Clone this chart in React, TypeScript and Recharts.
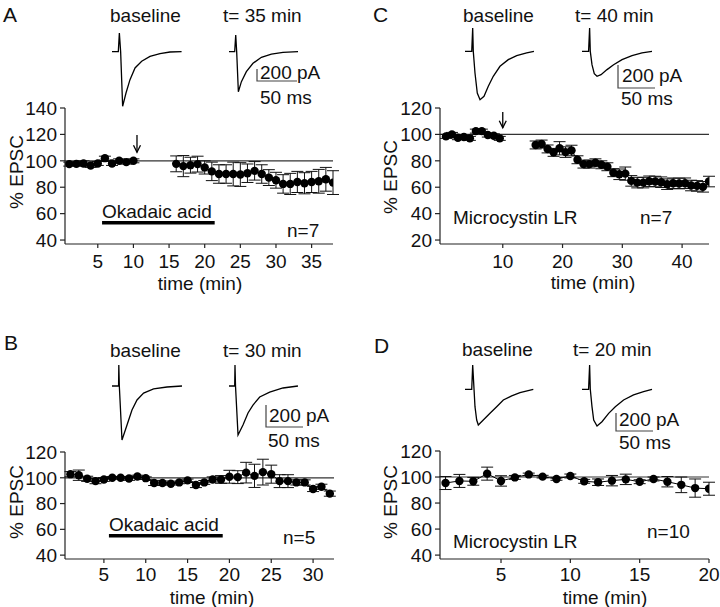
import React from 'react';
import { LineChart, Line, XAxis, YAxis, ErrorBar, ReferenceLine } from 'recharts';

const FONT = '"Liberation Sans", Arial, Helvetica, sans-serif';

// ---------- Panel A (Okadaic acid, n=7) ----------
const A_PRE_T = [1, 2, 3, 4, 5, 6, 7, 8, 9, 10];
const A_PRE_V = [97.5, 97.7, 98, 96.5, 98, 102, 98, 100, 99, 100];
const A_PRE_E = [1.5, 1.5, 2, 1.5, 1.5, 1.5, 1.5, 1.5, 1.5, 1.5];
const A_POST_T = [16, 17, 18, 19, 20, 21, 22, 23, 24, 25, 26, 27, 28, 29, 30, 31, 32, 33, 34, 35, 36, 37, 38];
const A_POST_V = [97.7, 96, 96.7, 97.5, 95, 92, 90, 90, 90, 89.6, 90.6, 92.4, 90, 87.3, 85.3, 82.5, 82.5, 84, 83, 84, 84.5, 86, 83.5];
const A_POST_E = [6, 8, 6, 6, 5, 7, 7, 7, 9, 9, 7, 7, 7, 6, 6, 7, 8, 8, 8, 8, 9, 9, 9];
const A_X_TICKS = [5, 10, 15, 20, 25, 30, 35];
const A_Y_TICKS = [40, 60, 80, 100, 120, 140];
const A_DRUG = [5.6, 21.4];
const A_ARROW_T = 10.5;

// ---------- Panel C (Microcystin LR, n=7) ----------
const C_PRE_T = [0.5, 1.5, 2.5, 3.5, 4.5, 5.5, 6.5, 7.5, 8.5, 9.5];
const C_PRE_V = [98.5, 100, 97.5, 98, 97, 102.5, 102.5, 99.5, 99, 97];
const C_PRE_E = [1.5, 1.5, 1.5, 1.5, 1.5, 1.5, 1.5, 1.5, 1.5, 1.5];
const C_POST_T = [15.5, 16.5, 17.5, 18.5, 19.5, 20.5, 21.5, 22.5, 23.5, 24.5, 25.5, 26.5, 27.5, 28.5, 29.5, 30.5, 31.5, 32.5, 33.5, 34.5, 35.5, 36.5, 37.5, 38.5, 39.5, 40.5, 41.5, 42.5, 43.5, 44.5];
const C_POST_V = [92, 92.7, 89, 86.4, 89.5, 86.6, 87.8, 80.8, 77.5, 77.5, 78.5, 77, 75.5, 71, 69.8, 70.3, 64.8, 63.5, 63.5, 64.5, 64.3, 63.8, 62.3, 63, 62.8, 63, 61.3, 61, 60.3, 64.3];
const C_POST_E = [3, 3, 3, 3, 5, 4, 4, 3, 3, 3, 3, 3, 3, 3, 4, 5, 4, 4, 4, 4, 4, 4, 4, 4, 4, 4, 4, 4, 4, 4];
const C_X_TICKS = [10, 20, 30, 40];
const C_Y_TICKS = [20, 40, 60, 80, 100, 120];
const C_ARROW_T = 10;

// ---------- Panel B (Okadaic acid, n=5) ----------
const B_T = [1, 2, 3, 4, 5, 6, 7, 8, 9, 10, 11, 12, 13, 14, 15, 16, 17, 18, 19, 20, 21, 22, 23, 24, 25, 26, 27, 28, 29, 30, 31, 32];
const B_V = [102.8, 102, 99.2, 97.4, 98.7, 100, 100, 99.5, 101, 99.7, 96, 96, 95.4, 96.4, 98, 94.4, 96.4, 98.7, 98.7, 100.8, 100.5, 104, 101.5, 104.4, 102.8, 97.4, 97.4, 96.4, 96.4, 91.3, 93, 87.7];
const B_E = [2, 4, 2, 2, 1.5, 1, 1, 1.5, 1, 1, 2, 1.5, 1, 1, 1, 2, 1.5, 2, 3, 5, 5, 8, 9, 10, 7, 5, 5, 2, 2, 2, 2, 2];
const B_X_TICKS = [5, 10, 15, 20, 25, 30];
const B_Y_TICKS = [40, 60, 80, 100, 120];
const B_DRUG = [5.6, 19.2];

// ---------- Panel D (Microcystin LR, n=10) ----------
const D_T = [1, 2, 3, 4, 5, 6, 7, 8, 9, 10, 11, 12, 13, 14, 15, 16, 17, 18, 19, 20];
const D_V = [95.4, 97, 96.7, 102.6, 97, 99.7, 102, 100.3, 98.5, 100.8, 96.7, 96, 97.2, 98.2, 96.4, 98.5, 96.4, 94, 91.5, 91];
const D_E = [5, 5, 3, 5, 4, 1.5, 1, 1, 1, 1.5, 1.5, 2.5, 4, 4, 1.5, 1.5, 4, 6, 7, 5];
const D_X_TICKS = [5, 10, 15, 20];
const D_Y_TICKS = [40, 60, 80, 100, 120];

// ---------- EPSC traces (ms, pA) ----------
const TR_A_BASE_T = [0, 7.9, 9.2, 10.8, 13.3, 17.5, 22.5, 28.8, 37.1, 47.5, 60, 72.5, 87];
const TR_A_BASE_I = [0, 0, 311, 0, -911, -689, -467, -272, -161, -78, -33, -6, 0];
const TR_A_35_T = [0, 7.1, 8.4, 9.6, 11.7, 15.5, 21.7, 30, 40.5, 53, 67.5, 86.3];
const TR_A_35_I = [0, 0, 278, 0, -667, -500, -333, -194, -94, -39, -11, 0];
const TR_B_BASE_T = [0, 8.9, 9.2, 9.9, 13.5, 20.3, 27, 33.8, 42.7, 56.2, 74.3, 94.6];
const TR_B_BASE_I = [0, 0, 191, 0, -491, -355, -218, -127, -64, -27, -9, 0];
const TR_B_30_T = [0, 7.7, 8.1, 8.8, 12.2, 18.9, 25.7, 32.4, 41.5, 55, 73, 93.2];
const TR_B_30_I = [0, 0, 191, 0, -445, -355, -245, -173, -100, -55, -18, 0];
const TR_C_BASE_T = [0, 9.1, 10.4, 11.2, 13.5, 16.6, 20.3, 25.7, 31.5, 38.2, 47.3, 58.5, 69.9, 83.4, 93.2];
const TR_C_BASE_I = [0, 0, 203, 0, -188, -362, -420, -391, -304, -217, -130, -72, -37, -14, 0];
const TR_C_40_T = [0, 8.9, 10.3, 11.2, 13.5, 16.6, 20.3, 25.7, 33.8, 42.7, 54.1, 67.6, 81.1, 94.6];
const TR_C_40_I = [0, 0, 203, 0, -116, -194, -217, -203, -159, -116, -72, -37, -14, 0];
const TR_D_BASE_T = [0, 9.1, 10.4, 12.2, 13.5, 15.8, 18, 24.7, 33.8, 42.8, 51.8, 63.1, 74.3, 92.3];
const TR_D_BASE_I = [0, 0, 270, 0, -193, -341, -396, -341, -267, -193, -119, -74, -38, 0];
const TR_D_20_T = [0, 8.9, 10.3, 11.2, 13.5, 15.8, 20.3, 27, 36, 45, 56.2, 69.7, 83.2, 94.6];
const TR_D_20_I = [0, 0, 270, 0, -193, -341, -408, -360, -267, -193, -119, -63, -27, 0];
const SCALE_T = [0, 0, 50];
const SCALE_I = [200, 0, 0];

const build = (t: number[], v: number[], e: number[]) => t.map((x, k) => ({ t: x, v: v[k], e: e[k] }));

function ArrowShape(props: any) {
  const { x1, y1, x2, y2 } = props;
  return (
    <g>
      <line x1={x1} y1={y1} x2={x2} y2={y2} stroke="#000" strokeWidth={1.3} />
      <polyline points={`${x2 - 3.5},${y2 - 7} ${x2},${y2} ${x2 + 3.5},${y2 - 7}`} fill="none" stroke="#000" strokeWidth={1.3} />
    </g>
  );
}

function Trace({ t, i, ox, oy, sx, sy, color = '#000', sw = 1.3 }: any) {
  const data = t.map((x: number, k: number) => ({ t: x, i: i[k] }));
  const xMin = Math.min(...t), xMax = Math.max(...t), yMin = Math.min(...i), yMax = Math.max(...i);
  const pad = 3;
  const w = (xMax - xMin) * sx + 2 * pad;
  const h = (yMax - yMin) * sy + 2 * pad;
  const left = ox + xMin * sx - pad;
  const top = oy - yMax * sy - pad;
  return (
    <div style={{ position: 'absolute', left, top }}>
      <LineChart width={w} height={h} data={data} margin={{ top: pad, right: pad, bottom: pad, left: pad }}>
        <XAxis hide type="number" dataKey="t" domain={[xMin, xMax]} />
        <YAxis hide type="number" domain={[yMin, yMax]} />
        <Line type="linear" dataKey="i" stroke={color} strokeWidth={sw} dot={false} activeDot={false} isAnimationActive={false} />
      </LineChart>
    </div>
  );
}

function Panel({ x0, x1, y0, y1, xDomain, yDomain, xTicks, yTicks, series, bar, arrow, tickMargin = 7 }: any) {
  const YW = 65;
  const left = x0 - YW;
  const top = y0 - 20;
  const width = x1 - left + 20;
  const height = y1 - top + 45;
  const axisStyle = { stroke: '#222', strokeWidth: 1.2 };
  const tickStyle = { fill: '#111', fontSize: 19, fontFamily: FONT };
  return (
    <div style={{ position: 'absolute', left, top }}>
      <LineChart width={width} height={height} margin={{ top: 20, right: 20, bottom: 15, left: 0 }}>
        <XAxis type="number" dataKey="t" domain={xDomain} ticks={xTicks} interval={0} height={30}
          tickSize={4} tickMargin={tickMargin} axisLine={axisStyle} tickLine={axisStyle} tick={tickStyle} allowDataOverflow />
        <YAxis type="number" domain={yDomain} ticks={yTicks} interval={0} width={YW}
          tickSize={5} tickMargin={3} axisLine={axisStyle} tickLine={axisStyle} tick={tickStyle} allowDataOverflow />
        <ReferenceLine y={100} stroke="#333" strokeWidth={1.2} />
        {series.map((d: any, k: number) => (
          <Line key={k} data={d} dataKey="v" type="linear" stroke="#000" strokeWidth={1}
            dot={{ r: 4.2, fill: '#000', stroke: '#000', strokeWidth: 0 }} activeDot={false} isAnimationActive={false}>
            <ErrorBar dataKey="e" width={6} stroke="#111" strokeWidth={1} direction="y" />
          </Line>
        ))}
        {bar && (
          <ReferenceLine segment={[{ x: bar.from, y: bar.y }, { x: bar.to, y: bar.y }]} stroke="#000" strokeWidth={3.5} />
        )}
        {arrow && (
          <ReferenceLine segment={[{ x: arrow.t, y: arrow.yTop }, { x: arrow.t, y: arrow.yTip }]} shape={ArrowShape} />
        )}
      </LineChart>
    </div>
  );
}

const T = ({ x, y, children, size = 19, anchor = 'start' }: any) => (
  <text x={x} y={y} fontSize={size} fontFamily={FONT} fill="#111" textAnchor={anchor}>{children}</text>
);
const VT = ({ x, y, children }: any) => (
  <text transform={`translate(${x},${y}) rotate(-90)`} fontSize={19} fontFamily={FONT} fill="#111" textAnchor="middle">{children}</text>
);

export default function App() {
  return (
    <div style={{ position: 'absolute', left: 0, top: 0, width: 720, height: 607, background: '#fff', overflow: 'hidden' }}>
      <Panel x0={65} x1={333} y0={108} y1={244} xDomain={[0.4, 38]} yDomain={[37, 140]} xTicks={A_X_TICKS} yTicks={A_Y_TICKS}
        series={[build(A_PRE_T, A_PRE_V, A_PRE_E), build(A_POST_T, A_POST_V, A_POST_E)]}
        bar={{ from: A_DRUG[0], to: A_DRUG[1], y: 53 }} arrow={{ t: A_ARROW_T, yTop: 119.5, yTip: 106.5 }} />
      <Panel x0={440} x1={709} y0={108} y1={244} xDomain={[-0.5, 44.5]} yDomain={[17, 120]} xTicks={C_X_TICKS} yTicks={C_Y_TICKS}
        series={[build(C_PRE_T, C_PRE_V, C_PRE_E), build(C_POST_T, C_POST_V, C_POST_E)]}
        arrow={{ t: C_ARROW_T, yTop: 117, yTip: 105 }} />
      <Panel x0={65} x1={334} y0={452} y1={559} xDomain={[0.35, 32.5]} yDomain={[37, 120]} xTicks={B_X_TICKS} yTicks={B_Y_TICKS}
        series={[build(B_T, B_V, B_E)]} bar={{ from: B_DRUG[0], to: B_DRUG[1], y: 55 }} tickMargin={5} />
      <Panel x0={440} x1={709} y0={451} y1={559} xDomain={[0.6, 20]} yDomain={[37, 120]} xTicks={D_X_TICKS} yTicks={D_Y_TICKS}
        series={[build(D_T, D_V, D_E)]} tickMargin={5} />

      <Trace t={TR_A_BASE_T} i={TR_A_BASE_I} ox={112} oy={52} sx={0.8} sy={0.06} />
      <Trace t={TR_A_35_T} i={TR_A_35_I} ox={229.3} oy={51.7} sx={0.8} sy={0.06} />
      <Trace t={SCALE_T} i={SCALE_I} ox={257} oy={80.5} sx={0.8} sy={0.06} color="#444" sw={1.2} />

      <Trace t={TR_C_BASE_T} i={TR_C_BASE_I} ox={465} oy={51.7} sx={0.74} sy={0.115} />
      <Trace t={TR_C_40_T} i={TR_C_40_I} ox={581.7} oy={51.7} sx={0.74} sy={0.115} />
      <Trace t={SCALE_T} i={SCALE_I} ox={618} oy={88} sx={0.74} sy={0.115} color="#444" sw={1.2} />

      <Trace t={TR_B_BASE_T} i={TR_B_BASE_I} ox={111.7} oy={386} sx={0.74} sy={0.11} />
      <Trace t={TR_B_30_T} i={TR_B_30_I} ox={229.3} oy={386} sx={0.74} sy={0.11} />
      <Trace t={SCALE_T} i={SCALE_I} ox={266} oy={427} sx={0.74} sy={0.11} color="#444" sw={1.2} />

      <Trace t={TR_D_BASE_T} i={TR_D_BASE_I} ox={465} oy={389.3} sx={0.74} sy={0.09} />
      <Trace t={TR_D_20_T} i={TR_D_20_I} ox={581.7} oy={389.3} sx={0.74} sy={0.09} />
      <Trace t={SCALE_T} i={SCALE_I} ox={616} oy={431} sx={0.74} sy={0.09} color="#444" sw={1.2} />

      <svg width={720} height={607} style={{ position: 'absolute', left: 0, top: 0, pointerEvents: 'none' }}>
        <T x={3} y={22} size={21}>A</T>
        <T x={373} y={22} size={21}>C</T>
        <T x={4} y={350} size={21}>B</T>
        <T x={374} y={353} size={21}>D</T>

        <T x={110} y={22}>baseline</T>
        <T x={223} y={22}>t= 35 min</T>
        <T x={463} y={22}>baseline</T>
        <T x={575} y={22}>t= 40 min</T>
        <T x={110} y={357}>baseline</T>
        <T x={223} y={357}>t= 30 min</T>
        <T x={462} y={356}>baseline</T>
        <T x={573} y={356}>t= 20 min</T>

        <T x={260} y={79}>200 pA</T>
        <T x={260} y={104}>50 ms</T>
        <T x={622} y={82}>200 pA</T>
        <T x={621} y={105}>50 ms</T>
        <T x={269} y={422}>200 pA</T>
        <T x={268} y={447}>50 ms</T>
        <T x={619} y={426}>200 pA</T>
        <T x={619} y={449}>50 ms</T>

        <VT x={23} y={172}>% EPSC</VT>
        <VT x={397} y={177}>% EPSC</VT>
        <VT x={23} y={502}>% EPSC</VT>
        <VT x={397} y={502}>% EPSC</VT>

        <T x={200} y={290} anchor="middle">time (min)</T>
        <T x={593} y={289} anchor="middle">time (min)</T>
        <T x={212} y={603.5} anchor="middle">time (min)</T>
        <T x={605} y={603.5} anchor="middle">time (min)</T>

        <T x={102} y={218}>Okadaic acid</T>
        <T x={109} y={531}>Okadaic acid</T>
        <T x={453} y={224}>Microcystin LR</T>
        <T x={453} y={548}>Microcystin LR</T>

        <T x={287} y={237}>n=7</T>
        <T x={283} y={544}>n=5</T>
        <T x={640} y={224}>n=7</T>
        <T x={647} y={538}>n=10</T>
      </svg>
    </div>
  );
}
